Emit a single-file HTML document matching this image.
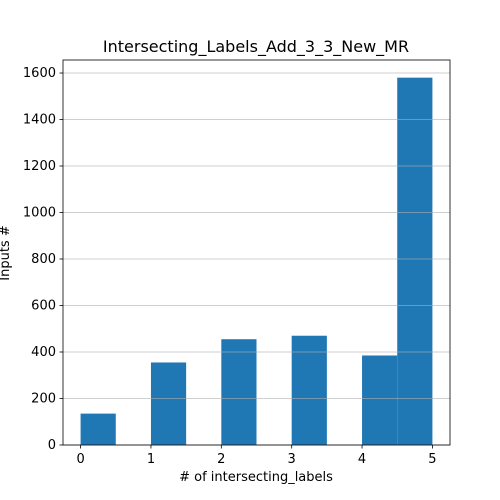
<!DOCTYPE html>
<html><head><meta charset="utf-8"><style>body{margin:0;background:#fff}svg{display:block}text{font-family:"DejaVu Sans","Liberation Sans",sans-serif}</style></head>
<body>
<svg id="chart" width="500" height="500">
<text x="256" y="52" font-size="16" text-anchor="middle">Intersecting_Labels_Add_3_3_New_MR</text>
<g id="bars"></g><g id="grid"></g><g id="axes"></g>
<text x="256" y="481" font-size="13" text-anchor="middle"># of intersecting_labels</text>
<text x="9" y="253" font-size="13" text-anchor="middle" transform="rotate(-90 9 253)">Inputs #</text>
</svg>
<script>
const binStarts=[0,0.5,1,1.5,2,2.5,3,3.5,4,4.5];
const counts=[135,0,355,0,455,0,470,0,385,1580];
const binWidth=0.5;
const xTicks=[0,1,2,3,4,5];
const yTicks=[0,200,400,600,800,1000,1200,1400,1600];
const L=63,R=450,T=60,B=445,xmin=-0.25,xmax=5.25,ymax=1656;
const sx=v=>L+(v-xmin)/(xmax-xmin)*(R-L);
const sy=v=>B-v/ymax*(B-T);
const NS="http://www.w3.org/2000/svg";
function mk(tag,attrs,parent){const e=document.createElementNS(NS,tag);for(const k in attrs)e.setAttribute(k,attrs[k]);parent.appendChild(e);return e;}
const gb=document.getElementById('bars'),gg=document.getElementById('grid'),ga=document.getElementById('axes');
binStarts.forEach((b,i)=>{if(!counts[i])return;
const r=mk('rect',{x:sx(b),y:sy(counts[i]),width:sx(b+binWidth)-sx(b),height:B-sy(counts[i]),fill:'#1f77b4'},gb);

});
yTicks.forEach(t=>{const y=sy(t);
const l=mk('line',{x1:L,x2:R,y1:y,y2:y,stroke:'#b0b0b0','stroke-width':0.8,'stroke-opacity':0.8},gg);


mk('line',{x1:L-3.5,x2:L,y1:y,y2:y,stroke:'#000','stroke-width':0.8},ga);
const tx=mk('text',{x:L-7,y:y+4,'font-size':13,'text-anchor':'end'},ga);tx.textContent=t;

});
xTicks.forEach(t=>{const x=sx(t);
mk('line',{x1:x,x2:x,y1:B,y2:B+3.5,stroke:'#000','stroke-width':0.8},ga);
const tx=mk('text',{x:x,y:B+18,'font-size':13,'text-anchor':'middle'},ga);tx.textContent=t;

});
const fr=mk('rect',{x:L,y:T,width:R-L,height:B-T,fill:'none',stroke:'#000','stroke-width':0.8},ga);


</script>
</body></html>
